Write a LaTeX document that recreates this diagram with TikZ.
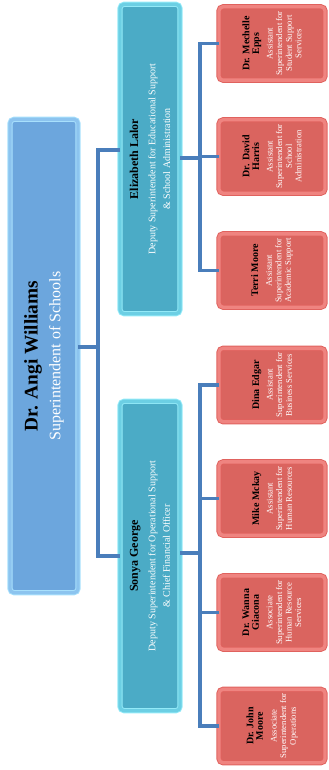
\documentclass[tikz,border=0pt]{standalone}
\usepackage{fontspec}
\setmainfont{Liberation Serif}
\usepackage{tikz}
\usetikzlibrary{positioning}

\definecolor{linkblue}{HTML}{4A7EBB}
\definecolor{chieffill}{HTML}{6CA6DD}
\definecolor{chiefbevel}{HTML}{8CC4EF}
\definecolor{chiefrim}{HTML}{A8E0FC}
\definecolor{depfill}{HTML}{4BABC6}
\definecolor{depbevel}{HTML}{6CCFE4}
\definecolor{deprim}{HTML}{93EAF8}
\definecolor{asstfill}{HTML}{DA645F}
\definecolor{asstbevel}{HTML}{EF8480}
\definecolor{asstrim}{HTML}{E0625E}

\newcommand{\asstname}{\fontsize{7.5}{7.5}\selectfont\bfseries\color{black}}
\newcommand{\depname}{\fontsize{9}{11}\selectfont\bfseries\color{black}}

\begin{document}
\begin{tikzpicture}[
    x=0.75pt, y=-0.75pt,
    chief/.style={rectangle, rotate=90, rounded corners=3pt, align=center, text=white,
        fill=chieffill, draw=chiefrim, double=chiefbevel, double distance=2.5pt, line width=0.7pt,
        minimum width=355pt, minimum height=51pt, inner sep=0pt, outer sep=0pt},
    deputy/.style={rectangle, rotate=90, rounded corners=3pt, align=center, text=white,
        fill=depfill, draw=deprim, double=depbevel, double distance=2.5pt, line width=0.7pt,
        minimum width=232pt, minimum height=45pt, inner sep=0pt, outer sep=0pt,
        font=\fontsize{7.5}{11}\selectfont},
    asst/.style={rectangle, rotate=90, rounded corners=3pt, align=center, text=white,
        fill=asstfill, draw=asstrim, double=asstbevel, double distance=2.5pt, line width=0.7pt,
        minimum width=55pt, minimum height=79.5pt, inner sep=0pt, outer sep=0pt,
        font=\fontsize{6.5}{7.2}\selectfont},
    link/.style={draw=linkblue, line width=2.5pt}
]
\useasboundingbox (0,0) rectangle (328,770);

% Superintendent
\node[chief] (angi) at (44,356)
    {{\fontsize{14.5}{16}\selectfont\bfseries\color{black} Dr. Angi Williams}\\[5pt]
     {\fontsize{12}{14}\selectfont Superintendent of Schools}};

% Deputies
\node[deputy] (eliz) at (150,159)
    {{\depname Elizabeth Lalor}\\[2pt]
     Deputy Superintendent for Educational Support\\ \& School Administration};
\node[deputy] (sonya) at (150,556)
    {{\depname Sonya George}\\[2pt]
     Deputy Superintendent for Operational Support\\ \& Chief Financial Officer};

% Assistants under Elizabeth Lalor
\node[asst] (epps) at (272,43.5)
    {{\asstname Dr. Mechelle}\\ {\asstname Epps}\\[3pt]
     Assistant\\ Superintendent for\\ Student Support\\ Services};
\node[asst] (harris) at (272,156.5)
    {{\asstname Dr. David}\\ {\asstname Harris}\\[3pt]
     Assistant\\ Superintendent for\\ School\\ Administration};
\node[asst] (terri) at (272,270.5)
    {{\asstname Terri Moore}\\[3pt]
     Assistant\\ Superintendent for\\ Academic Support};

% Assistants under Sonya George
\node[asst] (dina) at (272,385)
    {{\asstname Dina Edgar}\\[3pt]
     Assistant\\ Superintendent for\\ Business Services};
\node[asst] (mike) at (272,498.5)
    {{\asstname Mike Mckay}\\[3pt]
     Assistant\\ Superintendent for\\ Human Resources};
\node[asst] (giacona) at (272,612.5)
    {{\asstname Dr. Wanna}\\ {\asstname Giacona}\\[3pt]
     Associate\\ Superintendent for\\ Human Resource\\ Services};
\node[asst] (jmoore) at (272,726)
    {{\asstname Dr. John}\\ {\asstname Moore}\\[3pt]
     Associate\\ Superintendent for\\ Operations};

% Connectors
\coordinate (trunk) at (98,347);
\coordinate (trunktop) at (98,150);
\coordinate (busE) at (200,158);
\coordinate (busS) at (200,553);

\draw[link] (angi.south |- trunk) -- (trunk);
\draw[link] (eliz.north |- trunktop) -- (trunktop) |- (sonya.north);

\draw[link] (eliz.south |- busE) -- (busE);
\draw[link] (epps.north) -| (busE) |- (terri.north);
\draw[link] (harris.north) -- (harris.north -| busE);

\draw[link] (sonya.south |- busS) -- (busS);
\draw[link] (dina.north) -| (busS) |- (jmoore.north);
\draw[link] (mike.north) -- (mike.north -| busS);
\draw[link] (giacona.north) -- (giacona.north -| busS);

\end{tikzpicture}
\end{document}
